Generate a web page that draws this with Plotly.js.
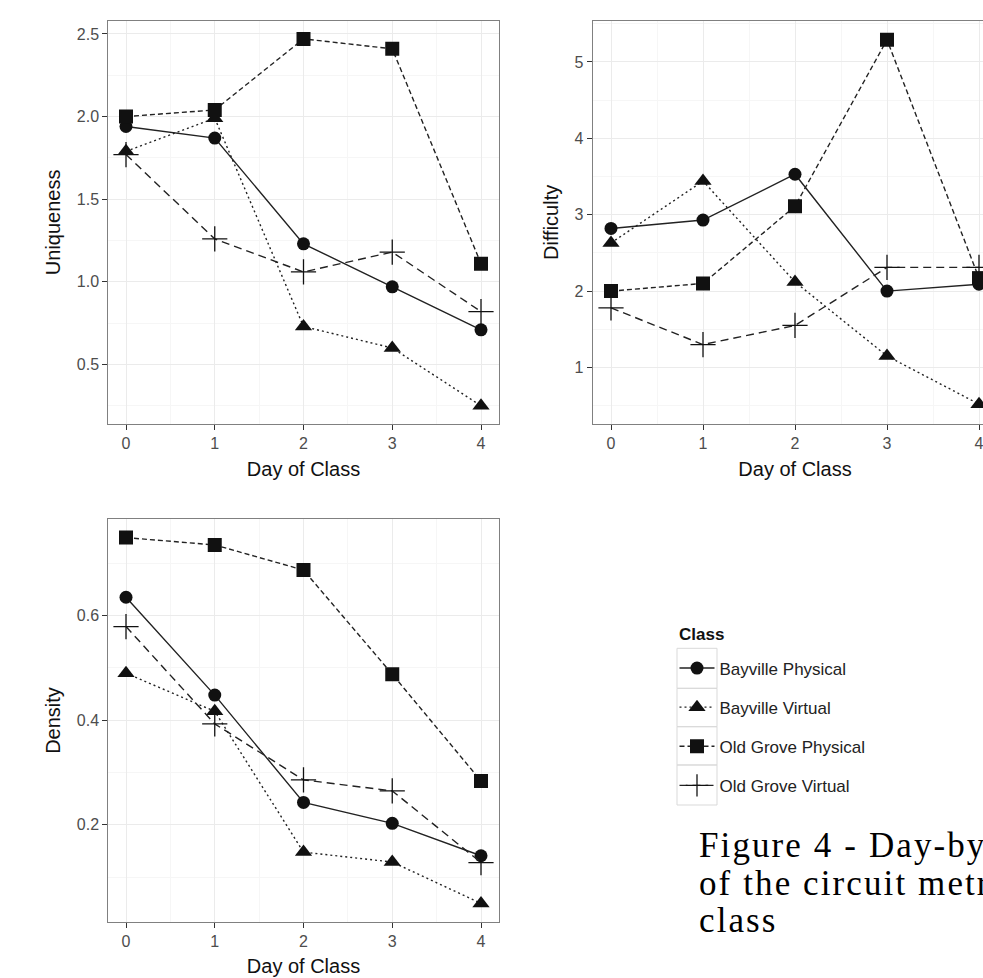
<!DOCTYPE html>
<html>
<head>
<meta charset="utf-8">
<script src="https://cdn.plot.ly/plotly-3.0.1.min.js"></script>
<style>
  html, body { margin: 0; padding: 0; background: #fff; overflow: hidden; }
  #wrap { width: 983px; height: 978px; overflow: hidden; position: relative; }
  #chart { width: 1000px; height: 978px; }
  #chart text.annotation-text[style*="Serif"] { letter-spacing: 2.1px; }
</style>
</head>
<body>
<div id="wrap"><div id="chart"></div></div>
<script>
// ---- data ----
const days = [0, 1, 2, 3, 4];
const classNames = ["Bayville Physical", "Bayville Virtual", "Old Grove Physical", "Old Grove Virtual"];

const uniquenessBayvillePhysical = [1.94, 1.87, 1.23, 0.97, 0.71];
const uniquenessBayvilleVirtual  = [1.79, 1.99, 0.73, 0.60, 0.25];
const uniquenessOldGrovePhysical = [2.00, 2.04, 2.47, 2.41, 1.11];
const uniquenessOldGroveVirtual  = [1.77, 1.26, 1.06, 1.18, 0.82];

const difficultyBayvillePhysical = [2.82, 2.93, 3.53, 2.00, 2.09];
const difficultyBayvilleVirtual  = [2.63, 3.44, 2.12, 1.15, 0.52];
const difficultyOldGrovePhysical = [2.00, 2.10, 3.11, 5.29, 2.17];
const difficultyOldGroveVirtual  = [1.78, 1.30, 1.55, 2.31, 2.31];

const densityBayvillePhysical = [0.635, 0.448, 0.243, 0.203, 0.141];
const densityBayvilleVirtual  = [0.490, 0.417, 0.148, 0.129, 0.050];
const densityOldGrovePhysical = [0.749, 0.735, 0.687, 0.488, 0.284];
const densityOldGroveVirtual  = [0.579, 0.393, 0.286, 0.265, 0.128];

const xTickVals = [0, 1, 2, 3, 4];
const xTickText = ["0", "1", "2", "3", "4"];
const uniqTickVals = [0.5, 1.0, 1.5, 2.0, 2.5];
const uniqTickText = ["0.5", "1.0", "1.5", "2.0", "2.5"];
const diffTickVals = [1, 2, 3, 4, 5];
const diffTickText = ["1", "2", "3", "4", "5"];
const densTickVals = [0.2, 0.4, 0.6];
const densTickText = ["0.2", "0.4", "0.6"];

const legendTitle = "Class";
const captionLines = ["Figure 4 - Day-by-day changes", "of the circuit metrics for each", "class"];

// ---- styles ----
const ink = "#111111";
const lineInk = "#222222";
const styles = [
  {symbol: "circle", size: 13, dash: "solid"},
  {symbol: "triangle-up", size: 15, dash: "2px,3px"},
  {symbol: "square", size: 14, dash: "5px,3px"},
  {symbol: "cross-thin", size: 18, dash: "8px,5px"}
];

const panels = [
  {xa: "x",  ya: "y",  series: [uniquenessBayvillePhysical, uniquenessBayvilleVirtual, uniquenessOldGrovePhysical, uniquenessOldGroveVirtual]},
  {xa: "x2", ya: "y2", series: [difficultyBayvillePhysical, difficultyBayvilleVirtual, difficultyOldGrovePhysical, difficultyOldGroveVirtual]},
  {xa: "x3", ya: "y3", series: [densityBayvillePhysical, densityBayvilleVirtual, densityOldGrovePhysical, densityOldGroveVirtual]}
];

const traces = [];
panels.forEach((p, pi) => {
  p.series.forEach((vals, si) => {
    const st = styles[si];
    traces.push({
      type: "scatter", mode: "lines+markers",
      x: days, y: vals, xaxis: p.xa, yaxis: p.ya,
      name: classNames[si], legendgroup: "g" + si, showlegend: pi === 0,
      line: {color: lineInk, width: 1.4, dash: st.dash},
      marker: {symbol: st.symbol, size: st.size, color: ink,
               line: {color: ink, width: st.symbol === "cross-thin" ? 1.3 : 0}},
      hoverinfo: "x+y+name"
    });
  });
});

const W = 1000, H = 978;
const tickFont = {family: "Liberation Sans, Arial, sans-serif", size: 16, color: "#4d4d4d"};
const titleFont = {family: "Liberation Sans, Arial, sans-serif", size: 20, color: "#111"};

function xAxis(domain, anchor) {
  return {
    domain: domain, anchor: anchor, range: [-0.2, 4.2],
    tickvals: xTickVals, ticktext: xTickText, tickfont: tickFont,
    ticks: "outside", ticklen: 5, tickcolor: "#333", tickwidth: 1,
    showline: true, mirror: true, linecolor: "#808080", linewidth: 1,
    showgrid: true, gridcolor: "#ebebeb", gridwidth: 1, zeroline: false,
    minor: {dtick: 0.5, tick0: 0, showgrid: true, gridcolor: "#f6f6f6", gridwidth: 1, ticks: ""},
    title: {text: "Day of Class", font: titleFont, standoff: 10},
    fixedrange: true
  };
}
function yAxis(domain, anchor, range, tv, tt, minorD, minor0, label) {
  return {
    domain: domain, anchor: anchor, range: range,
    tickvals: tv, ticktext: tt, tickfont: tickFont,
    ticks: "outside", ticklen: 5, tickcolor: "#333", tickwidth: 1,
    showline: true, mirror: true, linecolor: "#808080", linewidth: 1,
    showgrid: true, gridcolor: "#ebebeb", gridwidth: 1, zeroline: false,
    minor: {dtick: minorD, tick0: minor0, showgrid: true, gridcolor: "#f6f6f6", gridwidth: 1, ticks: ""},
    title: {text: label, font: titleFont, standoff: 10},
    fixedrange: true
  };
}

const py = (top, bottom) => [(H - bottom) / H, (H - top) / H];
const px = (l, r) => [l / W, r / W];

const legendRows = [648.3, 688.3, 726.7, 765, 805];
const shapes = [];
for (let i = 0; i < 4; i++) {
  shapes.push({type: "rect", xref: "paper", yref: "paper",
    x0: 677 / W, x1: 717 / W, y0: (H - legendRows[i + 1]) / H, y1: (H - legendRows[i]) / H,
    line: {color: "#d9d9d9", width: 1}, fillcolor: "rgba(255,255,255,0)", layer: "below"});
}

const annotations = [{
  xref: "paper", yref: "paper", x: 677 / W, y: (H - 634) / H,
  xanchor: "left", yanchor: "middle", showarrow: false,
  text: "<b>" + legendTitle + "</b>",
  font: {family: "Liberation Sans, Arial, sans-serif", size: 17, color: "#111"}
}];
const captionCenters = [845, 883, 920];
captionLines.forEach((t, i) => {
  annotations.push({
    xref: "paper", yref: "paper", x: 697 / W, y: (H - captionCenters[i]) / H,
    xanchor: "left", yanchor: "middle", align: "left", showarrow: false,
    text: t,
    font: {family: "Liberation Serif, Times New Roman, serif", size: 35, color: "#000"}
  });
});

const layout = {
  width: W, height: H,
  margin: {l: 0, r: 0, t: 0, b: 0},
  paper_bgcolor: "#fff", plot_bgcolor: "#fff",
  font: {family: "Liberation Sans, Arial, sans-serif", color: "#111"},
  xaxis: xAxis(px(108.25, 498.75), "y"),
  yaxis: yAxis(py(20.7, 424), "x", [0.14, 2.58], uniqTickVals, uniqTickText, 0.25, 0, "Uniqueness"),
  xaxis2: xAxis(px(592.6, 997.4), "y2"),
  yaxis2: yAxis(py(20.7, 424), "x2", [0.26, 5.54], diffTickVals, diffTickText, 0.5, 0, "Difficulty"),
  xaxis3: xAxis(px(108.25, 498.75), "y3"),
  yaxis3: yAxis(py(519.3, 921.7), "x3", [0.015, 0.784], densTickVals, densTickText, 0.1, 0, "Density"),
  showlegend: true,
  legend: {
    x: 674.5 / W, y: (H - 650.5) / H, xanchor: "left", yanchor: "top",
    bgcolor: "rgba(255,255,255,0)", borderwidth: 0, itemwidth: 35,
    font: {family: "Liberation Sans, Arial, sans-serif", size: 17, color: "#222"},
    tracegroupgap: 14, traceorder: "grouped", itemclick: false, itemdoubleclick: false
  },
  shapes: shapes,
  annotations: annotations
};

Plotly.newPlot("chart", traces, layout, {displayModeBar: false, staticPlot: true});
</script>
</body>
</html>
